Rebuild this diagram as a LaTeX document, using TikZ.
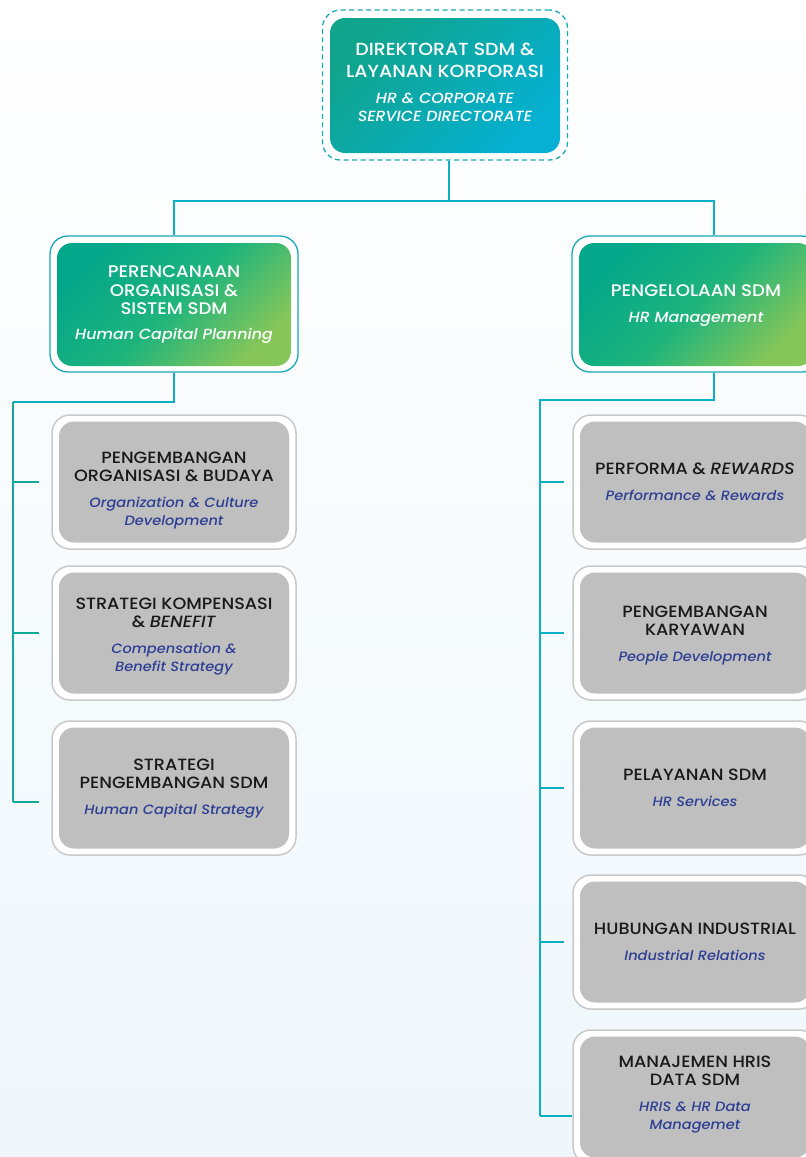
\documentclass[tikz,border=0pt]{standalone}
\usepackage{fontspec}
\setmainfont{Poppins}[FakeStretch=1.08, UprightFont=* Medium, ItalicFont=* Medium Italic]
\usetikzlibrary{positioning}

\definecolor{linecyan}{HTML}{0CAFC6}
\definecolor{lineteal}{HTML}{14A89B}
\definecolor{frameteal}{HTML}{17A9B8}
\definecolor{framegray}{HTML}{C9C9C9}
\definecolor{boxgray}{HTML}{BFBFBF}
\definecolor{engblue}{HTML}{2D3F94}
\definecolor{dirtl}{HTML}{10A48C}
\definecolor{dirbr}{HTML}{06B0D2}
\definecolor{midtl}{HTML}{04A789}
\definecolor{midmd}{HTML}{1EB47C}
\definecolor{midbr}{HTML}{86C659}
\definecolor{bgblue}{HTML}{EFF7FC}

\newcommand{\eng}[1]{{\color{engblue}\fontsize{13.5}{18}\selectfont\itshape #1}}
\newcommand{\engw}[1]{{\fontsize{14.7}{18}\selectfont\itshape #1}}
% taller first / deeper last line nudges the text block down / up
\newcommand{\padtop}[1]{\rule{0pt}{#1}}
\newcommand{\padbot}[1]{\rule[-#1]{0pt}{1pt}}

\tikzset{
  dirframe/.style={draw=frameteal, dash pattern=on 5pt off 3.5pt, line width=1.3pt,
    rounded corners=18pt, fill=white, minimum width=245pt, minimum height=150pt},
  dirbox/.style={rounded corners=15pt, left color=dirtl, right color=dirbr, shading angle=45,
    minimum width=230pt, minimum height=135pt, align=center, text=white,
    font=\fontsize{17.5}{22.5}\selectfont},
  midframe/.style={draw=frameteal, line width=1.3pt, rounded corners=18pt, fill=white,
    minimum width=248pt, minimum height=136pt},
  midbox/.style={rounded corners=15pt, left color=midtl, right color=midbr, middle color=midmd,
    shading angle=45, minimum width=234pt, minimum height=123pt, align=center, text=white,
    font=\fontsize{16.8}{18.5}\selectfont},
  subframe/.style={draw=framegray, line width=1.5pt, rounded corners=18pt, fill=white,
    minimum width=244pt, minimum height=134pt},
  subbox/.style={rounded corners=15pt, fill=boxgray, minimum width=230pt, minimum height=121pt,
    align=center, text=black!90, font=\fontsize{16.3}{18}\selectfont},
  conn/.style={draw=linecyan, line width=1.8pt},
  bus/.style={draw=lineteal, line width=1.8pt}
}

\begin{document}
\begin{tikzpicture}[x=1pt,y=-1pt]
  % Background
  \useasboundingbox (0,0) rectangle (806,1157);
  \clip (0,0) rectangle (806,1157);
  \fill[top color=white, bottom color=bgblue] (0,0) rectangle (806,1157);

  % Define points
  \coordinate (split) at (447,201);
  \coordinate (lbus-top) at (13,402);
  \coordinate (lbus-end) at (13,802);
  \coordinate (rbus-top) at (540,400);
  \coordinate (rbus-end) at (540,1116);

  % Directorate
  \node[dirframe] (dir-frame) at (445,85) {};
  \node[dirbox] (dir) at (445,85.5) {DIREKTORAT SDM \&\\LAYANAN KORPORASI\\[3pt]
    \engw{HR \& CORPORATE}\\[-4pt]\engw{SERVICE DIRECTORATE}\padbot{6pt}};

  % Divisions
  \node[midframe] (per-frame) at (174,304) {};
  \node[midbox] (per) at (174,304.5) {PERENCANAAN\\ORGANISASI \&\\SISTEM SDM\\[6pt]
    \engw{Human Capital Planning}};
  \node[midframe] (peng-frame) at (696,304) {};
  \node[midbox] (peng) at (696,304.5) {\padtop{14pt}PENGELOLAAN SDM\\[8pt]\engw{HR Management}};

  % Left units
  \node[subframe] (pob-frame) at (174,482) {};
  \node[subbox] (pob) at (174,482) {\padtop{29pt}PENGEMBANGAN\\ORGANISASI \& BUDAYA\\[8pt]
    \eng{Organization \& Culture}\\\eng{Development}};
  \node[subframe] (skb-frame) at (174,633) {};
  \node[subbox] (skb) at (174,633) {\padtop{19pt}STRATEGI KOMPENSASI\\\& \textit{BENEFIT}\\[8pt]
    \eng{Compensation \&}\\\eng{Benefit Strategy}};
  \node[subframe] (sps-frame) at (174,788) {};
  \node[subbox] (sps) at (174,788) {\padtop{13pt}STRATEGI\\PENGEMBANGAN SDM\\[8pt]
    \eng{Human Capital Strategy}};

  % Right units
  \node[subframe] (pr-frame) at (695,482) {};
  \node[subbox] (pr) at (695,482) {PERFORMA \& \textit{REWARDS}\\[8pt]
    \eng{Performance \& Rewards}};
  \node[subframe] (pk-frame) at (695,633) {};
  \node[subbox] (pk) at (695,633) {\padtop{17pt}PENGEMBANGAN\\KARYAWAN\\[8pt]
    \eng{People Development}};
  \node[subframe] (ps-frame) at (695,788) {};
  \node[subbox] (ps) at (695,788) {PELAYANAN SDM\\[8pt]\eng{HR Services}};
  \node[subframe] (hi-frame) at (695,942) {};
  \node[subbox] (hi) at (695,942) {HUBUNGAN INDUSTRIAL\\[8pt]\eng{Industrial Relations}};
  \node[subframe] (mh-frame) at (695,1097) {};
  \node[subbox] (mh) at (695,1097) {MANAJEMEN HRIS\\DATA SDM\\[8pt]
    \eng{HRIS \& HR Data}\\\eng{Managemet}\padbot{9pt}};

  % Top connectors
  \draw[conn] ([xshift=4pt]dir-frame.south) -- ([xshift=4pt]dir-frame.south |- split);
  \draw[conn] (per-frame.north) |- (split) -| ([xshift=18pt]peng-frame.north);

  % Left bus
  \draw[conn] (per-frame.south) |- (lbus-top);
  \draw[bus] (lbus-top) -- (lbus-end);
  \draw[bus] (lbus-top |- pob-frame) -- ++(26,0);
  \draw[bus] (lbus-top |- skb-frame) -- ++(26,0);
  \draw[bus] (lbus-end) -- ++(26,0);

  % Right bus
  \draw[conn] ([xshift=18pt]peng-frame.south) |- (rbus-top) -- (rbus-end);
  \draw[conn] (rbus-top |- pr-frame) -- ++(24,0);
  \draw[conn] (rbus-top |- pk-frame) -- ++(24,0);
  \draw[conn] (rbus-top |- ps-frame) -- ++(24,0);
  \draw[conn] (rbus-top |- hi-frame) -- ++(24,0);
  \draw[conn] (rbus-end) -- (rbus-end -| mh-frame.west);
\end{tikzpicture}
\end{document}
